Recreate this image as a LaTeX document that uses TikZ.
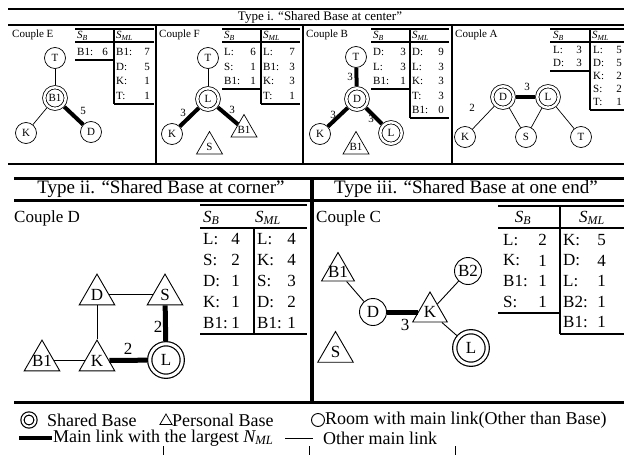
\documentclass[tikz,border=0pt]{standalone}
\usepackage{amsmath}
\usepackage{fontspec}
\setmainfont{Liberation Serif}
\usepackage{tikz}
\usetikzlibrary{shapes.geometric, calc}
\newcommand{\topfs}{\fontsize{11}{13}\selectfont}
\newcommand{\toptitlefs}{\fontsize{13}{15}\selectfont}
\newcommand{\lowfs}{\fontsize{17}{20}\selectfont}
\newcommand{\lowtitlefs}{\fontsize{19}{22}\selectfont}
\newcommand{\legendfs}{\fontsize{18}{21}\selectfont}
\newcommand{\hdrB}{$\textit{S}_{\textit{B}}$}
\newcommand{\hdrML}{$\textit{S}_{\textit{ML}}$}
\tikzset{
  room/.style={circle, draw, line width=0.7pt, minimum size=21pt, inner sep=0pt},
  sbase/.style={circle, draw, double, double distance=2.5pt, line width=0.8pt, minimum size=21.5pt, inner sep=0pt, outer sep=2.1pt},
  pbase/.style={regular polygon, regular polygon sides=3, draw, line width=0.7pt, minimum size=30pt, inner sep=0pt},
  mainlink/.style={line width=4pt},
  sublink/.style={line width=0.7pt},
  frame/.style={line width=2.6pt},
  tabline/.style={line width=1.5pt},
  key/.style={anchor=west, inner sep=0pt},
  val/.style={anchor=east, inner sep=0pt},
}

\begin{document}
\begin{tikzpicture}[x=1pt, y=-1pt]
\useasboundingbox (0,0) rectangle (624,455);

% ---- Type i
\draw[frame] (8,9) -- (624,9);
\node[font=\toptitlefs] (title-i) at (320,17) {Type i. “Shared Base at center”};
\draw[frame] (8,25) -- (624,25);
\draw[frame] (8,164) -- (624,164);
\foreach \xx in {156,303,452}
  \draw[line width=1.8pt] (\xx,25) -- (\xx,164);

\begin{scope}[font=\topfs]
% couple E
\node[key] (e-name) at (12,35) {Couple E};
\draw[tabline] (75,29) -- (154,29);
\node[key] (e-hb) at (77,36) {\hdrB};
\node[key] (e-hml) at (116,36) {\hdrML};
\draw[tabline] (75,42) -- (154,42);
\draw[tabline] (114,29) -- (114,104);
\foreach \k/\v [count=\i] in {B1/6}
  {\node[key] (e-bk\i) at (77,{52+14.5*(\i-1)}) {\k:};
   \node[val] (e-bv\i) at (108,{52+14.5*(\i-1)}) {\v};}
\draw[tabline] (75,60) -- (114,60);
\foreach \k/\v [count=\i] in {B1/7,D/5,K/1,T/1}
  {\node[key] (e-mk\i) at (116,{52+14.5*(\i-1)}) {\k:};
   \node[val] (e-mv\i) at (150,{52+14.5*(\i-1)}) {\v};}
\draw[tabline] (114,104) -- (154,104);

\node[room] (e-t) at (55,58) {T};
\node[sbase] (e-b1) at (55,98) {B1};
\node[room] (e-k) at (26,133) {K};
\node[room] (e-d) at (91,132) {D};
\draw[sublink] (e-t) -- (e-b1);
\draw[sublink] (e-b1) -- (e-k);
\draw[mainlink] (e-b1) -- (e-d);
\node (e-n1) at (83,111) {5};

% couple F
\node[key] (f-name) at (159,35) {Couple F};
\draw[tabline] (222,29) -- (300,29);
\node[key] (f-hb) at (224,36) {\hdrB};
\node[key] (f-hml) at (263,36) {\hdrML};
\draw[tabline] (222,42) -- (300,42);
\draw[tabline] (261,29) -- (261,104);
\foreach \k/\v [count=\i] in {L/6,S/1,B1/1}
  {\node[key] (f-bk\i) at (224,{52+14.5*(\i-1)}) {\k:};
   \node[val] (f-bv\i) at (256,{52+14.5*(\i-1)}) {\v};}
\draw[tabline] (222,89) -- (261,89);
\foreach \k/\v [count=\i] in {L/7,B1/3,K/3,T/1}
  {\node[key] (f-mk\i) at (263,{52+14.5*(\i-1)}) {\k:};
   \node[val] (f-mv\i) at (295,{52+14.5*(\i-1)}) {\v};}
\draw[tabline] (261,104) -- (300,104);

\node[room] (f-t) at (208,58) {T};
\node[sbase] (f-l) at (208,99) {L};
\node[room] (f-k) at (172,134) {K};
\node[pbase, label=center:B1] (f-b1) at (244,129.5) {};
\node[pbase, label=center:S] (f-s) at (209.5,146.5) {};
\draw[sublink] (f-t) -- (f-l);
\draw[mainlink] (f-l) -- (f-k);
\draw[mainlink] (f-l) -- (f-b1);
\node (f-n1) at (183,113) {3};
\node (f-n2) at (232,110) {3};

% couple B
\node[key] (b-name) at (306,35) {Couple B};
\draw[tabline] (371,29) -- (449,29);
\node[key] (b-hb) at (373,36) {\hdrB};
\node[key] (b-hml) at (412,36) {\hdrML};
\draw[tabline] (371,42) -- (449,42);
\draw[tabline] (410,29) -- (410,118);
\foreach \k/\v [count=\i] in {D/3,L/3,B1/1}
  {\node[key] (b-bk\i) at (373,{52+14.5*(\i-1)}) {\k:};
   \node[val] (b-bv\i) at (406,{52+14.5*(\i-1)}) {\v};}
\draw[tabline] (371,89) -- (410,89);
\foreach \k/\v [count=\i] in {D/9,L/3,K/3,T/3,B1/0}
  {\node[key] (b-mk\i) at (412,{52+14.5*(\i-1)}) {\k:};
   \node[val] (b-mv\i) at (444,{52+14.5*(\i-1)}) {\v};}
\draw[tabline] (410,118) -- (449,118);

\node[room] (b-t) at (356,57) {T};
\node[sbase] (b-d) at (357,99) {D};
\node[room] (b-k) at (320,134) {K};
\node[sbase] (b-l) at (391,133) {L};
\node[pbase, label=center:B1] (b-b1) at (356,146.5) {};
\draw[mainlink] (b-t) -- (b-d);
\draw[mainlink] (b-d) -- (b-k);
\draw[mainlink] (b-d) -- (b-l);
\node (b-n1) at (350,77) {3};
\node (b-n2) at (333,115) {3};
\node (b-n3) at (371,119) {3};

% couple A
\node[key] (a-name) at (455,35) {Couple A};
\draw[tabline] (550,29) -- (624,29);
\node[key] (a-hb) at (553,36) {\hdrB};
\node[key] (a-hml) at (592,36) {\hdrML};
\draw[tabline] (550,42) -- (624,42);
\draw[tabline] (590,29) -- (590,110);
\foreach \k/\v [count=\i] in {L/3,D/3}
  {\node[key] (a-bk\i) at (553,{50+13*(\i-1)}) {\k:};
   \node[val] (a-bv\i) at (582,{50+13*(\i-1)}) {\v};}
\draw[tabline] (550,71) -- (590,71);
\foreach \k/\v [count=\i] in {L/5,D/5,K/2,S/2,T/1}
  {\node[key] (a-mk\i) at (593,{50+13*(\i-1)}) {\k:};
   \node[val] (a-mv\i) at (622,{50+13*(\i-1)}) {\v};}
\draw[tabline] (590,110) -- (624,110);

\node[sbase] (a-d) at (503,97) {D};
\node[sbase] (a-l) at (548,97) {L};
\node[room] (a-k) at (465,137) {K};
\node[room] (a-s) at (526,137) {S};
\node[room] (a-t) at (581,137) {T};
\draw[mainlink] (a-d) -- (a-l);
\draw[sublink] (a-d) -- (a-k);
\draw[sublink] (a-d) -- (a-s);
\draw[sublink] (a-l) -- (a-s);
\draw[sublink] (a-l) -- (a-t);
\node (a-n1) at (527,87) {3};
\node (a-n2) at (472,108) {2};
\end{scope}

% ---- Type ii and iii
\draw[line width=3pt] (14,178) -- (624,178);
\node[font=\lowtitlefs] (title-ii) at (161,189) {Type ii. “Shared Base at corner”};
\node[font=\lowtitlefs] (title-iii) at (466,189) {Type iii. “Shared Base at one end”};
\draw[line width=3pt] (14,200) -- (624,200);
\draw[line width=3.5pt] (312,178) -- (312,402);
\draw[line width=3pt] (14,402) -- (624,402);

\begin{scope}[font=\lowfs,
  room/.append style={minimum size=27pt, line width=0.9pt},
  sbase/.append style={minimum size=32.5pt, double distance=3pt, line width=1.2pt, outer sep=2.7pt},
  pbase/.append style={minimum size=41pt, line width=0.9pt},
  mainlink/.append style={line width=5pt},
  sublink/.append style={line width=0.9pt},
  tabline/.append style={line width=2pt}]
% couple D
\node[key] (d-name) at (14,218) {Couple D};
\draw[tabline] (200,205) -- (307,205);
\node[key] (d-hb) at (203,218) {\hdrB};
\node[key] (d-hml) at (255,218) {\hdrML};
\draw[tabline] (200,228) -- (307,228);
\draw[tabline] (254,228) -- (254,334);
\foreach \k/\v [count=\i] in {L/4,S/2,D/1,K/1,B1/1}
  {\node[key] (d-bk\i) at (203,{239+21*(\i-1)}) {\k:};
   \node[val] (d-bv\i) at (240,{239+21*(\i-1)}) {\v};}
\foreach \k/\v [count=\i] in {L/4,K/4,S/3,D/2,B1/1}
  {\node[key] (d-mk\i) at (257,{239+21*(\i-1)}) {\k:};
   \node[val] (d-mv\i) at (296,{239+21*(\i-1)}) {\v};}
\draw[tabline] (200,334) -- (307,334);

\node[pbase, label=center:D] (d-d) at (97,294.6) {};
\node[pbase, label=center:S] (d-s) at (165,294.6) {};
\node[pbase, label=center:K] (d-k) at (97,360.6) {};
\node[pbase, label=center:B1] (d-b1) at (42,360.6) {};
\node[sbase] (d-l) at (166,360) {L};
\draw[sublink] (d-d) -- (d-s);
\draw[sublink] (d-d) -- (d-k);
\draw[sublink] (d-b1) -- (d-k);
\draw[mainlink] (d-k) -- (d-l);
\draw[mainlink] (d-s) -- (d-l);
\node (d-n1) at (128,349) {2};
\node (d-n2) at (158,327) {2};

% couple C
\node[key] (c-name) at (316,218) {Couple C};
\draw[tabline] (498,206) -- (624,206);
\node (c-hb) at (523,218) {\hdrB};
\node (c-hml) at (592,218) {\hdrML};
\draw[tabline] (498,228) -- (624,228);
\draw[tabline] (560,206) -- (560,334);
\foreach \k/\v [count=\i] in {L/2,K/1,B1/1,S/1}
  {\node[key] (c-bk\i) at (503,{240+20.5*(\i-1)}) {\k:};
   \node[val] (c-bv\i) at (547,{240+20.5*(\i-1)}) {\v};}
\draw[tabline] (498,313) -- (560,313);
\foreach \k/\v [count=\i] in {K/5,D/4,L/1,B2/1,B1/1}
  {\node[key] (c-mk\i) at (563,{240+20.5*(\i-1)}) {\k:};
   \node[val] (c-mv\i) at (606,{240+20.5*(\i-1)}) {\v};}
\draw[tabline] (560,334) -- (624,334);

\node[pbase, minimum size=38pt, label=center:B1] (c-b1) at (338,271.5) {};
\node[room] (c-d) at (373,312) {D};
\node[pbase, minimum size=40pt, label=center:K] (c-k) at (430,312) {};
\node[room] (c-b2) at (468,271) {B2};
\node[sbase] (c-l) at (471,348) {L};
\node[pbase, label=center:S] (c-s) at (335.5,352) {};
\draw[sublink] (c-b1) -- (c-d);
\draw[mainlink] (c-d) -- (c-k);
\draw[sublink] (c-k) -- (c-b2);
\draw[sublink] (c-k) -- (c-l);
\node (c-n1) at (405,325) {3};
\end{scope}

% ---- legend
\begin{scope}[font=\legendfs]
\node[circle, draw, double, double distance=2pt, line width=1.2pt, minimum size=13pt, inner sep=0pt] (lg-sb) at (29,420) {};
\node[key] (lg-sbt) at (47,420) {Shared Base};
\node[regular polygon, regular polygon sides=3, draw, line width=0.8pt, minimum size=14pt, inner sep=0pt] (lg-pb) at (166,421) {};
\node[key] (lg-pbt) at (172,420) {Personal Base};
\node[circle, draw, line width=0.9pt, minimum size=13pt, inner sep=0pt] (lg-rm) at (318,420) {};
\node[key] (lg-rmt) at (325,420) {Room with main link(Other than Base)};
\draw[line width=4pt] (19,438) -- (52,438);
\node[key] (lg-mlt) at (53,438) {Main link with the largest $\textit{N}_{\textit{ML}}$};
\draw[line width=0.9pt] (285,438) -- (313,438);
\node[key] (lg-olt) at (323,438) {Other main link};
\end{scope}

\foreach \xx in {163,309,455}
  \draw[line width=0.8pt] (\xx,446) -- (\xx,455);

\end{tikzpicture}
\end{document}
